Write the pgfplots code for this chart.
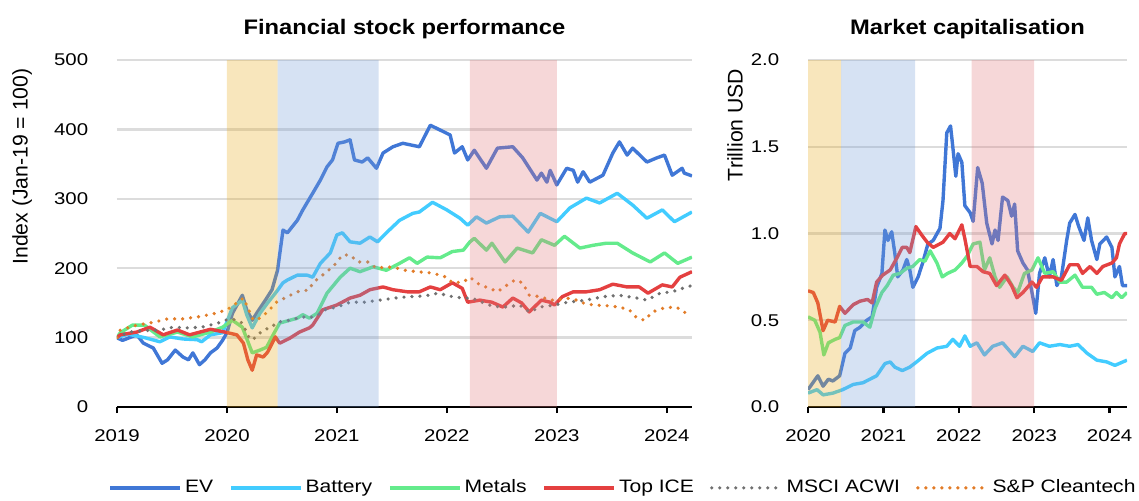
\documentclass[border=0pt]{standalone}
\usepackage{pgfplots}
\pgfplotsset{compat=1.18}
\usepackage{fontspec}
\setmainfont{Liberation Sans}

\definecolor{cEV}{RGB}{64,119,214}
\definecolor{cBat}{RGB}{66,204,255}
\definecolor{cMet}{RGB}{100,235,140}
\definecolor{cICE}{RGB}{228,64,64}
\definecolor{cMSCI}{RGB}{112,112,112}
\definecolor{cClean}{RGB}{226,124,40}
\definecolor{shO}{RGB}{232,172,33}
\definecolor{shB}{RGB}{118,158,215}
\definecolor{shR}{RGB}{225,122,125}
\definecolor{gridg}{RGB}{220,220,220}

\pgfplotsset{
  panel/.style={
    scale only axis, height=173.5pt,
    ymin=0, clip=true,
    axis lines*=left, axis line style={-},
    y axis line style={draw=none},
    x axis line style={black, line width=1.2pt},
    ytick style={draw=none},
    xtick style={black, line width=1.2pt},
    tick align=outside, major tick length=3pt,
    ymajorgrids, grid style={gridg, line width=1.2pt},
    /pgf/number format/assume math mode=true,
    tick label style={font=\fontsize{8.5}{10}\selectfont, xscale=1.2},
    xticklabel style={/pgf/number format/1000 sep={}, anchor=north, yshift=-5pt},
    yticklabel style={xshift=-6pt},
    title style={font=\bfseries\fontsize{10.5}{12}\selectfont, xscale=1.13,
      at={(0.5,1.054)}, anchor=center},
    every axis y label/.style={rotate=90, anchor=center, font=\fontsize{10.6}{12}\selectfont},
  },
  ser/.style={line width=1.7pt, line join=round},
  dots/.style={line width=1.8pt, line cap=round, dash pattern=on 0pt off 4pt},
  shade/.style={draw=none, fill=#1, fill opacity=0.3, forget plot},
}
\newcommand{\legtxt}[1]{\scalebox{1.17}[1]{#1}}

\begin{document}
\begin{tikzpicture}
% ---------------- left panel ----------------
\begin{axis}[panel,
  width=287.5pt,
  xmin=2019, xmax=2024.23, ymax=500,
  xtick={2019,2020,2021,2022,2023,2024},
  ytick={0,100,200,300,400,500},
  title={Financial stock performance},
  ylabel={Index (Jan-19 = 100)},
  ylabel style={at={(axis description cs:-0.165,0.693)}},
  legend columns=6,
  legend style={at={(0.881,-0.233)}, anchor=center, draw=none, fill=none,
    font=\fontsize{9}{11}\selectfont, nodes={inner xsep=1.5pt},
    /tikz/every even column/.append style={column sep=6.5pt}},
  legend image code/.code={\draw[#1] (0pt,0pt) -- (35pt,0pt);},
]
\addplot[ser, cEV] coordinates {
(2019.00,100) (2019.01,99) (2019.05,96) (2019.18,104) (2019.24,92) (2019.33,85)
(2019.41,63) (2019.46,68) (2019.53,82) (2019.60,72) (2019.65,68) (2019.69,78)
(2019.75,61) (2019.80,68) (2019.85,78) (2019.91,85) (2019.96,96) (2020.00,107)
(2020.05,135) (2020.14,161) (2020.18,140) (2020.23,125) (2020.27,135) (2020.35,154)
(2020.41,169) (2020.46,197) (2020.51,255) (2020.55,251) (2020.64,269) (2020.69,284)
(2020.78,308) (2020.85,327) (2020.91,346) (2020.96,356) (2021.01,380) (2021.07,382)
(2021.12,385) (2021.16,356) (2021.23,353) (2021.28,359) (2021.36,344) (2021.42,366)
(2021.51,375) (2021.60,380) (2021.66,378) (2021.75,375) (2021.85,406) (2021.94,399)
(2022.03,392) (2022.07,366) (2022.14,375) (2022.19,356) (2022.25,370) (2022.36,344)
(2022.46,373) (2022.60,375) (2022.69,359) (2022.82,327) (2022.86,337) (2022.91,324)
(2022.94,341) (2023.00,320) (2023.09,344) (2023.15,341) (2023.19,324) (2023.24,339)
(2023.30,324) (2023.42,334) (2023.51,366) (2023.57,382) (2023.64,363) (2023.69,373)
(2023.82,353) (2023.91,359) (2023.98,363) (2024.05,334) (2024.14,344) (2024.16,337)
(2024.23,333)
};
\addlegendentry{\legtxt{EV}}
\addplot[ser, cBat] coordinates {
(2019.00,100) (2019.10,105) (2019.25,100) (2019.39,94) (2019.48,101) (2019.60,98)
(2019.73,97) (2019.77,94) (2019.85,104) (2019.96,107) (2020.05,143) (2020.14,154)
(2020.18,133) (2020.23,114) (2020.30,135) (2020.37,150) (2020.45,166) (2020.51,179)
(2020.55,183) (2020.64,190) (2020.73,190) (2020.78,187) (2020.85,207) (2020.94,222)
(2021.00,248) (2021.05,251) (2021.12,238) (2021.21,236) (2021.30,245) (2021.37,238)
(2021.45,251) (2021.57,269) (2021.69,279) (2021.75,281) (2021.87,295) (2022.00,284)
(2022.12,272) (2022.19,262) (2022.27,274) (2022.36,265) (2022.48,274) (2022.60,275)
(2022.74,252) (2022.85,279) (2023.00,267) (2023.12,287) (2023.27,301) (2023.39,294)
(2023.55,308) (2023.69,291) (2023.82,272) (2023.96,284) (2024.07,267) (2024.23,281)
};
\addlegendentry{\legtxt{Battery}}
\addplot[ser, cMet] coordinates {
(2019.00,100) (2019.03,107) (2019.14,118) (2019.25,118) (2019.39,101) (2019.55,108)
(2019.69,101) (2019.85,108) (2019.96,115) (2020.05,125) (2020.14,115) (2020.23,78)
(2020.30,82) (2020.36,86) (2020.42,104) (2020.48,121) (2020.64,128) (2020.69,133)
(2020.75,128) (2020.82,135) (2020.91,164) (2021.03,187) (2021.12,200) (2021.21,195)
(2021.33,202) (2021.45,197) (2021.57,207) (2021.66,215) (2021.73,207) (2021.82,216)
(2021.94,215) (2022.05,224) (2022.15,226) (2022.21,238) (2022.25,243) (2022.36,226)
(2022.41,236) (2022.53,209) (2022.64,229) (2022.78,222) (2022.86,241) (2022.98,233)
(2023.07,246) (2023.21,229) (2023.33,233) (2023.45,236) (2023.55,236) (2023.69,222)
(2023.85,209) (2023.98,222) (2024.10,207) (2024.23,216)
};
\addlegendentry{\legtxt{Metals}}
\addplot[ser, cICE] coordinates {
(2019.00,100) (2019.03,104) (2019.18,108) (2019.30,115) (2019.42,104) (2019.55,111)
(2019.66,104) (2019.85,112) (2019.98,108) (2020.09,104) (2020.15,92) (2020.19,68)
(2020.23,53) (2020.27,75) (2020.33,72) (2020.37,79) (2020.44,101) (2020.48,92)
(2020.57,99) (2020.66,108) (2020.75,114) (2020.78,118) (2020.87,140) (2021.00,147)
(2021.12,157) (2021.21,161) (2021.30,169) (2021.42,173) (2021.51,169) (2021.64,166)
(2021.75,166) (2021.85,173) (2021.94,169) (2022.05,179) (2022.14,171) (2022.19,151)
(2022.30,154) (2022.41,151) (2022.51,144) (2022.60,157) (2022.68,150) (2022.75,137)
(2022.86,154) (2022.94,151) (2022.98,147) (2023.05,159) (2023.15,166) (2023.27,166)
(2023.39,169) (2023.51,177) (2023.64,173) (2023.75,173) (2023.83,164) (2023.96,176)
(2024.05,173) (2024.12,187) (2024.23,195)
};
\addlegendentry{\legtxt{Top ICE}}
\addplot[dots, cMSCI] coordinates {
(2019.00,100) (2019.10,108) (2019.25,110) (2019.39,111) (2019.51,115) (2019.64,114)
(2019.77,115) (2019.92,121) (2019.98,125) (2020.05,127) (2020.14,121) (2020.21,97)
(2020.25,99) (2020.33,111) (2020.41,115) (2020.45,122) (2020.57,125) (2020.69,130)
(2020.74,128) (2020.83,133) (2020.89,140) (2021.00,144) (2021.12,151) (2021.25,151)
(2021.39,154) (2021.53,157) (2021.66,159) (2021.80,160) (2021.92,164) (2022.05,159)
(2022.15,157) (2022.23,157) (2022.32,151) (2022.42,145) (2022.55,144) (2022.66,147)
(2022.75,137) (2022.85,144) (2022.98,147) (2023.10,151) (2023.27,154) (2023.42,159)
(2023.57,161) (2023.73,157) (2023.82,154) (2023.94,164) (2024.05,166) (2024.18,173)
(2024.23,175)
};
\addlegendentry{\legtxt{MSCI ACWI}}
\addplot[dots, cClean] coordinates {
(2019.00,100) (2019.03,111) (2019.18,118) (2019.33,122) (2019.46,127) (2019.60,127)
(2019.74,130) (2019.87,134) (2020.00,140) (2020.09,150) (2020.15,157) (2020.19,143)
(2020.24,125) (2020.30,128) (2020.37,137) (2020.45,151) (2020.55,159) (2020.64,166)
(2020.75,169) (2020.78,179) (2020.91,195) (2020.98,205) (2021.05,219) (2021.12,219)
(2021.19,209) (2021.28,209) (2021.36,200) (2021.46,202) (2021.55,200) (2021.62,197)
(2021.73,195) (2021.87,193) (2022.00,187) (2022.05,179) (2022.15,180) (2022.21,187)
(2022.30,176) (2022.39,171) (2022.46,166) (2022.55,176) (2022.62,183) (2022.69,179)
(2022.75,161) (2022.85,159) (2022.94,154) (2023.00,154) (2023.09,157) (2023.18,154)
(2023.24,150) (2023.33,147) (2023.45,146) (2023.57,144) (2023.66,140) (2023.73,128)
(2023.80,125) (2023.87,137) (2023.98,143) (2024.09,144) (2024.15,137) (2024.21,134)
};
\addlegendentry{\legtxt{S\&P Cleantech}}
% shaded periods
\addplot[shade=shO] coordinates {(2020,0) (2020,500) (2020.46,500) (2020.46,0)} \closedcycle;
\addplot[shade=shB] coordinates {(2020.46,0) (2020.46,500) (2021.38,500) (2021.38,0)} \closedcycle;
\addplot[shade=shR] coordinates {(2022.21,0) (2022.21,500) (2023.0,500) (2023.0,0)} \closedcycle;
\end{axis}

% ---------------- right panel ----------------
\begin{axis}[panel,
  at={(345.5pt,0)},
  width=159.5pt,
  xmin=2020, xmax=2024.23, ymax=2,
  xtick={2020,2021,2022,2023,2024},
  ytick={0,0.5,1,1.5,2},
  yticklabel style={/pgf/number format/.cd, fixed, fixed zerofill, precision=1},
  title={Market capitalisation},
  ylabel={Trillion USD},
  ylabel style={at={(axis description cs:-0.229,0.813)}},
]
\addplot[ser, cEV] coordinates {
(2020.00,0.10) (2020.13,0.18) (2020.20,0.12) (2020.27,0.16) (2020.33,0.15) (2020.42,0.18)
(2020.49,0.31) (2020.56,0.34) (2020.62,0.44) (2020.69,0.46) (2020.78,0.50) (2020.85,0.52)
(2020.91,0.69) (2020.98,0.77) (2021.02,1.02) (2021.06,0.96) (2021.11,1.01) (2021.15,0.89)
(2021.19,0.75) (2021.26,0.79) (2021.31,0.85) (2021.35,0.79) (2021.39,0.69) (2021.46,0.75)
(2021.52,0.83) (2021.59,0.94) (2021.66,0.96) (2021.75,1.03) (2021.79,1.19) (2021.84,1.58)
(2021.89,1.62) (2021.92,1.50) (2021.96,1.33) (2021.99,1.46) (2022.04,1.41) (2022.08,1.16)
(2022.15,1.12) (2022.19,1.07) (2022.25,1.38) (2022.31,1.29) (2022.37,1.06) (2022.44,0.94)
(2022.48,1.02) (2022.52,0.96) (2022.58,1.21) (2022.65,1.19) (2022.70,1.10) (2022.74,1.17)
(2022.78,0.90) (2022.85,0.83) (2022.91,0.79) (2022.97,0.66) (2023.02,0.54) (2023.07,0.77)
(2023.14,0.86) (2023.20,0.75) (2023.25,0.85) (2023.30,0.70) (2023.36,0.75) (2023.43,0.96)
(2023.47,1.06) (2023.54,1.11) (2023.59,1.04) (2023.66,0.96) (2023.71,1.09) (2023.76,0.96)
(2023.83,0.85) (2023.87,0.94) (2023.96,0.98) (2024.03,0.92) (2024.07,0.75) (2024.13,0.81)
(2024.17,0.70) (2024.23,0.70)
};
\addplot[ser, cBat] coordinates {
(2020.00,0.08) (2020.12,0.10) (2020.20,0.07) (2020.33,0.08) (2020.46,0.10) (2020.60,0.13)
(2020.73,0.14) (2020.82,0.16) (2020.91,0.18) (2021.02,0.25) (2021.09,0.26) (2021.15,0.23)
(2021.25,0.21) (2021.35,0.23) (2021.44,0.26) (2021.58,0.31) (2021.71,0.34) (2021.84,0.35)
(2021.92,0.39) (2022.01,0.35) (2022.08,0.41) (2022.15,0.35) (2022.24,0.37) (2022.34,0.30)
(2022.45,0.35) (2022.58,0.37) (2022.74,0.29) (2022.85,0.35) (2022.98,0.32) (2023.07,0.37)
(2023.20,0.35) (2023.34,0.36) (2023.47,0.35) (2023.58,0.36) (2023.70,0.31) (2023.83,0.27)
(2023.96,0.26) (2024.07,0.24) (2024.23,0.27)
};
\addplot[ser, cMet] coordinates {
(2020.00,0.52) (2020.09,0.50) (2020.16,0.43) (2020.21,0.30) (2020.27,0.37) (2020.36,0.39)
(2020.42,0.40) (2020.49,0.47) (2020.60,0.49) (2020.73,0.49) (2020.82,0.46) (2020.89,0.57)
(2020.98,0.66) (2021.05,0.70) (2021.13,0.76) (2021.22,0.77) (2021.31,0.80) (2021.39,0.81)
(2021.48,0.85) (2021.55,0.84) (2021.62,0.90) (2021.71,0.83) (2021.78,0.75) (2021.85,0.77)
(2021.95,0.79) (2022.04,0.83) (2022.11,0.87) (2022.19,0.94) (2022.28,0.95) (2022.34,0.79)
(2022.41,0.86) (2022.48,0.75) (2022.54,0.69) (2022.64,0.75) (2022.72,0.69) (2022.78,0.66)
(2022.87,0.77) (2022.97,0.79) (2023.05,0.86) (2023.14,0.77) (2023.25,0.78) (2023.34,0.72)
(2023.43,0.72) (2023.54,0.76) (2023.64,0.69) (2023.76,0.69) (2023.83,0.65) (2023.93,0.66)
(2024.03,0.63) (2024.09,0.66) (2024.16,0.63) (2024.23,0.66)
};
\addplot[ser, cICE] coordinates {
(2020.00,0.67) (2020.07,0.66) (2020.13,0.60) (2020.20,0.44) (2020.26,0.50) (2020.36,0.49)
(2020.42,0.58) (2020.49,0.54) (2020.60,0.59) (2020.69,0.61) (2020.79,0.62) (2020.85,0.60)
(2020.91,0.72) (2020.99,0.76) (2021.09,0.79) (2021.18,0.86) (2021.25,0.92) (2021.31,0.92)
(2021.35,0.89) (2021.43,1.04) (2021.51,0.99) (2021.58,0.95) (2021.66,0.92) (2021.79,0.95)
(2021.88,1.00) (2021.95,0.97) (2022.04,1.05) (2022.08,0.97) (2022.15,0.81) (2022.24,0.81)
(2022.32,0.78) (2022.41,0.77) (2022.50,0.70) (2022.61,0.76) (2022.70,0.70) (2022.77,0.63)
(2022.85,0.66) (2022.97,0.72) (2023.03,0.69) (2023.11,0.75) (2023.25,0.75) (2023.36,0.73)
(2023.47,0.82) (2023.58,0.82) (2023.64,0.77) (2023.74,0.81) (2023.83,0.77) (2023.91,0.81)
(2024.03,0.83) (2024.09,0.86) (2024.13,0.94) (2024.20,1.00) (2024.23,1.00)
};
\addplot[shade=shO] coordinates {(2020,0) (2020,2) (2020.44,2) (2020.44,0)} \closedcycle;
\addplot[shade=shB] coordinates {(2020.44,0) (2020.44,2) (2021.42,2) (2021.42,0)} \closedcycle;
\addplot[shade=shR] coordinates {(2022.17,0) (2022.17,2) (2023.0,2) (2023.0,0)} \closedcycle;
\end{axis}

\pgfresetboundingbox
\path[use as bounding box] (-58.5pt,-46.5pt) rectangle (511pt,203.5pt);
\end{tikzpicture}
\end{document}
